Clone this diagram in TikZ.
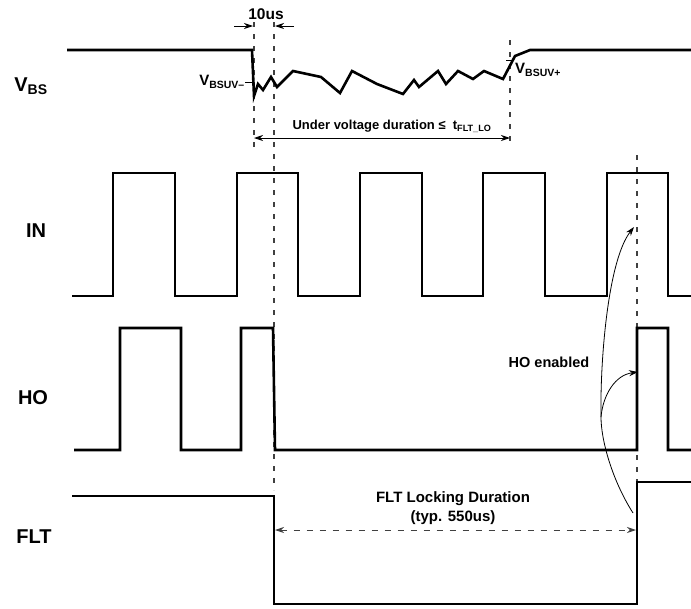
\documentclass[tikz,border=0pt]{standalone}
\usepackage{fontspec}
\setmainfont{Liberation Sans}
\usetikzlibrary{arrows.meta}
\tikzset{
  wave/.style={line width=2.6pt, line join=miter, line cap=butt},
  guide/.style={line width=1.1pt, draw=black!75, dash pattern=on 5pt off 7pt},
  dimarrow/.style={line width=0.9pt, -{Stealth[length=9pt,width=6pt]}},
  dimboth/.style={line width=0.9pt, {Stealth[length=9pt,width=6pt]}-{Stealth[length=9pt,width=6pt]}},
  sig/.style={font=\fontsize{20}{24}\selectfont\bfseries, inner sep=0pt},
  lbl/.style={font=\fontsize{14.5}{17}\selectfont\bfseries, inner sep=0pt},
  curvearrow/.style={line width=0.8pt, -{Stealth[length=9pt,width=6pt]}}
}
\begin{document}
\begin{tikzpicture}[x=1pt,y=-1pt]
\useasboundingbox (0,0) rectangle (691,608);

% signal names
\node[sig] (vbs) at (31,86) {V\textsubscript{BS}};
\node[sig] (in) at (36,231) {IN};
\node[sig] (ho) at (33,398) {HO};
\node[sig] (flt) at (34,537) {FLT};

% guide lines
\coordinate (g1t) at (254,22); \coordinate (g1b) at (254,150);
\coordinate (g2t) at (274,22); \coordinate (g2b) at (274,490);
\coordinate (g3t) at (510,40); \coordinate (g3b) at (510,146);
\coordinate (g4t) at (637,155); \coordinate (g4b) at (637,482);
\draw[guide] (g1t) -- (g1b);
\draw[guide] (g2t) -- (g2b);
\draw[guide] (g3t) -- (g3b);
\draw[guide] (g4t) -- (g4b);

% 10us
\node[lbl, font=\fontsize{15.5}{18}\selectfont\bfseries] (tenus) at (266,14) {10us};
\coordinate (a1s) at (234,26); \coordinate (a1e) at (253,26);
\coordinate (a2s) at (294,26); \coordinate (a2e) at (275,26);
\draw[dimarrow] (a1s) -- (a1e);
\draw[dimarrow] (a2s) -- (a2e);

% VBS waveform
\draw[wave] (67,50) -- (252,50) -- (254,96) -- (258,84) -- (263,90) -- (271,77) -- (277,87)
  -- (293,71) -- (321,77) -- (340,93) -- (352,71) -- (377,84) -- (403,94) -- (414,80)
  -- (419,87) -- (438,71) -- (446,84) -- (458,71) -- (473,79) -- (484,71) -- (503,79)
  -- (515,56) -- (530,50) -- (691,50);
\node[lbl, anchor=east, font=\fontsize{15}{17}\selectfont\bfseries] (uvm) at (245,82) {V\textsubscript{BSUV--}};
\coordinate (tk1a) at (245,82); \coordinate (tk1b) at (254,82);
\draw[line width=0.8pt] (tk1a) -- (tk1b);
\node[lbl, anchor=west, font=\fontsize{15}{17}\selectfont\bfseries] (uvp) at (515,70) {V\textsubscript{BSUV+}};
\coordinate (tk2a) at (506,60); \coordinate (tk2b) at (514,60);
\draw[line width=0.8pt] (tk2a) -- (tk2b);

% under voltage duration
\node[lbl, font=\fontsize{13}{15}\selectfont\bfseries] (uvd) at (392,126) {Under voltage duration ≤\ \ t\textsubscript{FLT\_LO}};
\coordinate (ud1) at (254,138); \coordinate (ud2) at (510,138);
\draw[dimboth] (ud1) -- (ud2);

% IN waveform
\draw[wave] (72,296) -- (113,296) -- (113,173) -- (175,173) -- (175,296) -- (237,296)
  -- (237,173) -- (298,173) -- (298,296) -- (360,296) -- (360,173) -- (422,173)
  -- (422,296) -- (483,296) -- (483,173) -- (545,173) -- (545,296) -- (607,296)
  -- (607,173) -- (668,173) -- (668,296) -- (691,296);

% HO waveform
\draw[wave] (74,450) -- (120,450) -- (120,328) -- (181,328) -- (181,450) -- (241,450)
  -- (241,328) -- (273,328) -- (275,450) -- (637,450) -- (637,328) -- (668,328)
  -- (668,450) -- (691,450);
\node[lbl] (hoen) at (549,362) {HO enabled};

% FLT waveform
\draw[wave] (72,496) -- (274,496) -- (274,604) -- (637,604) -- (637,482) -- (691,482);
\node[lbl, align=center, font=\fontsize{15}{19}\selectfont\bfseries] (fltd) at (453,508) {FLT Locking Duration\\(typ. 550us)};
\coordinate (fd1) at (275,530); \coordinate (fd2) at (636,530);
\draw[guide, line width=0.9pt, dash pattern=on 6pt off 7pt, {Stealth[length=9pt,width=6pt]}-{Stealth[length=9pt,width=6pt]}] (fd1) -- (fd2);

% curved arrows
\coordinate (cb) at (633,513);
\coordinate (cm) at (601,417);
\coordinate (ct) at (634,227);
\coordinate (ch) at (638,372);
\draw[line width=0.8pt] (cb) .. controls (612,480) and (601,440) .. (cm);
\draw[curvearrow] (cm) .. controls (600,360) and (608,260) .. (ct);
\draw[curvearrow] (cm) .. controls (603,395) and (615,375) .. (ch);
\end{tikzpicture}
\end{document}
